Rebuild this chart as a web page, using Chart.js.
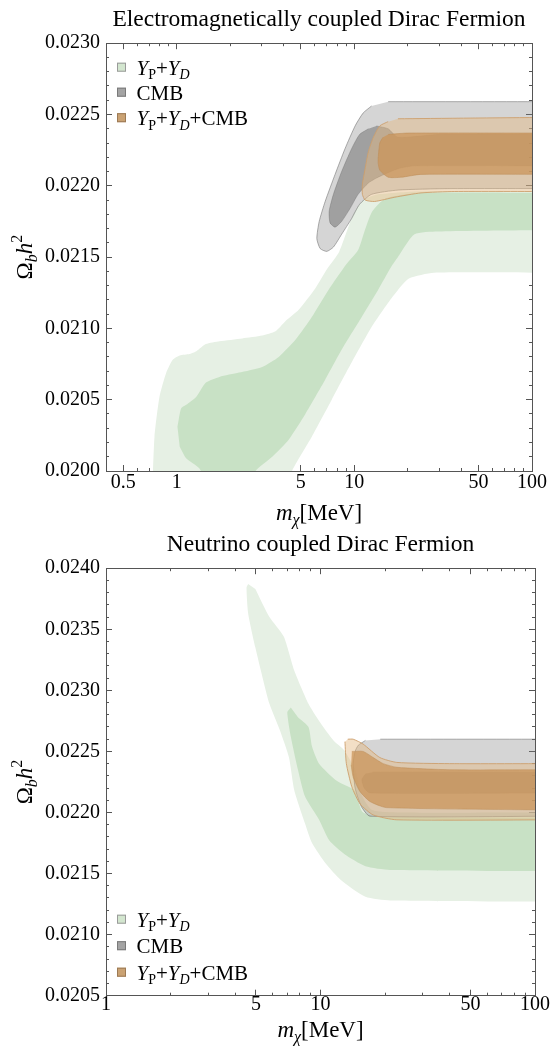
<!DOCTYPE html>
<html>
<head>
<meta charset="utf-8">
<script src="https://cdn.jsdelivr.net/npm/chart.js@4.4.1/dist/chart.umd.min.js"></script>
<style>
  html, body { margin: 0; padding: 0; background: #fff; }
  #wrap { position: relative; width: 553px; height: 1050px; }
  canvas { position: absolute; left: 0; }
  #emChart { top: 0; }
  #nuChart { top: 525px; }
</style>
</head>
<body>
<div id="wrap">
  <canvas id="emChart" width="553" height="530"></canvas>
  <canvas id="nuChart" width="553" height="525"></canvas>
</div>
<script>
// --- top panel: electromagnetically coupled (m in MeV, Omega_b h^2) ---
// points at x >= 130 or y below the axis close the regions outside the frame
const emGreenOuterX = [0.73, 0.75, 0.80, 0.874, 0.95, 1.04, 1.18, 1.29, 1.46, 1.74, 2.34, 3.03, 3.60, 4.09, 4.86, 6.02, 7.05, 8.23, 9.86, 11.2, 13.6, 22.8, 130, 200, 200, 130, 28.0, 20.3, 17.6, 15.5, 12.5, 9.65, 7.46, 5.76, 4.46, 4.3];
const emGreenOuterY = [0.01990, 0.02024, 0.02052, 0.02069, 0.02078, 0.02081, 0.02082, 0.02084, 0.02089, 0.02091, 0.02093, 0.02095, 0.02098, 0.02105, 0.02113, 0.02128, 0.02142, 0.02154, 0.02180, 0.02190, 0.02194, 0.02196, 0.02196, 0.02196, 0.02139, 0.02139, 0.02139, 0.02135, 0.02127, 0.02118, 0.02101, 0.02076, 0.02050, 0.02024, 0.02000, 0.01990];
const emGreenInnerX = [1.01, 1.06, 1.15, 1.29, 1.46, 1.74, 2.24, 3.03, 3.75, 4.66, 5.76, 7.15, 9.01, 10.5, 11.4, 12.6, 14.9, 22.8, 130, 200, 200, 130, 29.4, 21.8, 17.6, 16.1, 13.6, 11.0, 8.48, 6.85, 5.30, 4.27, 3.45, 2.78, 2.7, 1.52, 1.34, 1.13, 1.04];
const emGreenInnerY = [0.02031, 0.02044, 0.02047, 0.02052, 0.02062, 0.02066, 0.02069, 0.02073, 0.02080, 0.02092, 0.02108, 0.02127, 0.02145, 0.02155, 0.02168, 0.02182, 0.02191, 0.02195, 0.02195, 0.02195, 0.02169, 0.02169, 0.02168, 0.02166, 0.02150, 0.02143, 0.02127, 0.02108, 0.02085, 0.02064, 0.02040, 0.02022, 0.02010, 0.02000, 0.01990, 0.01990, 0.02002, 0.02009, 0.02017];
const emCmbOuterX = [15.5, 130, 200, 200, 130, 33.5, 17.6, 12.5, 10.7, 9.65, 8.48, 7.62, 6.99, 6.42, 6.15, 6.34, 6.85, 7.79, 8.86, 10.1, 11.2, 12.5];
const emCmbOuterY = [0.02259, 0.02259, 0.02259, 0.02198, 0.02198, 0.02198, 0.02197, 0.02194, 0.02187, 0.02177, 0.02166, 0.02157, 0.02154, 0.02156, 0.02163, 0.02175, 0.02189, 0.02208, 0.02226, 0.02242, 0.02251, 0.02256];
const emCmbInnerX = [13.3, 15.5, 17.6, 30, 130, 200, 200, 130, 21.8, 17.6, 13.6, 12.0, 10.5, 9.45, 8.48, 7.79, 7.30, 7.21, 7.62, 8.48, 9.65, 10.7, 12.0];
const emCmbInnerY = [0.02242, 0.02240, 0.02234, 0.02236, 0.02236, 0.02236, 0.02214, 0.02214, 0.02214, 0.02212, 0.02206, 0.02202, 0.02194, 0.02184, 0.02175, 0.02171, 0.02174, 0.02182, 0.02194, 0.02210, 0.02226, 0.02236, 0.02240];
const emBothOuterX = [17.6, 130, 200, 200, 130, 36.5, 23.7, 16.9, 13.0, 11.5, 11.1, 11.1, 11.5, 12.0, 12.8, 13.9, 15.5];
const emBothOuterY = [0.02247, 0.02248, 0.02248, 0.02196, 0.02196, 0.02196, 0.02195, 0.02192, 0.02189, 0.02190, 0.02194, 0.02201, 0.02212, 0.02224, 0.02234, 0.02242, 0.02245];
const emBothInnerX = [15.5, 20.0, 130, 200, 200, 130, 23.7, 18.4, 15.5, 13.9, 13.6, 13.9, 14.5];
const emBothInnerY = [0.02236, 0.02237, 0.02237, 0.02237, 0.02208, 0.02208, 0.02208, 0.02206, 0.02206, 0.02211, 0.02217, 0.02230, 0.02234];

// --- bottom panel: neutrino coupled ---
const nuGreenOuterX = [4.60, 4.52, 4.60, 4.97, 5.36, 5.78, 6.48, 7.13, 7.55, 8.47, 9.13, 10.6, 12.4, 16.2, 21.1, 130, 200, 200, 130, 23.5, 17.4, 15.6, 14.5, 12.9, 11.5, 9.85, 8.79, 7.55, 6.74, 5.78, 4.97];
const nuGreenOuterY = [0.02387, 0.02384, 0.02363, 0.02335, 0.02311, 0.02289, 0.02267, 0.02245, 0.02218, 0.02191, 0.02175, 0.02158, 0.02145, 0.02131, 0.02128, 0.02127, 0.02127, 0.02200, 0.02200, 0.02200, 0.02202, 0.02214, 0.02235, 0.02251, 0.02259, 0.02275, 0.02289, 0.02316, 0.02344, 0.02360, 0.02383];
const nuGreenInnerX = [7.27, 7.00, 7.27, 7.85, 8.47, 9.85, 11.0, 12.9, 16.2, 21.1, 130, 200, 200, 130, 21.1, 17.4, 15.6, 14.4, 11.9, 9.85, 9.13, 8.79, 7.85];
const nuGreenInnerY = [0.02286, 0.02282, 0.02262, 0.02235, 0.02213, 0.02194, 0.02177, 0.02166, 0.02156, 0.02153, 0.02152, 0.02152, 0.02196, 0.02196, 0.02196, 0.02197, 0.02201, 0.02218, 0.02226, 0.02240, 0.02254, 0.02270, 0.02278];
const nuCmbOuterX = [19.0, 130, 200, 200, 130, 17.0, 15.5, 14.5, 14.2, 14.5, 15.0, 16.2];
const nuCmbOuterY = [0.02260, 0.02260, 0.02260, 0.02197, 0.02197, 0.02197, 0.02205, 0.02220, 0.02240, 0.02250, 0.02255, 0.02259];
const nuCmbInnerX = [17.5, 130, 200, 200, 130, 17.0, 16.0, 15.6, 16.3];
const nuCmbInnerY = [0.02233, 0.02233, 0.02233, 0.02216, 0.02216, 0.02216, 0.02220, 0.02227, 0.02232];
const nuBothOuterX = [13.4, 14.2, 15.8, 18.9, 22.7, 40, 130, 200, 200, 130, 22.7, 17.6, 15.3, 14.0, 13.2, 13.0];
const nuBothOuterY = [0.02260, 0.02260, 0.02256, 0.02245, 0.02241, 0.02240, 0.02240, 0.02240, 0.02194, 0.02194, 0.02194, 0.02198, 0.02207, 0.02221, 0.02240, 0.02258];
const nuBothInnerX = [14.0, 15.8, 17.6, 19.6, 22.7, 40, 130, 200, 200, 130, 20.3, 17.0, 15.3, 14.2, 13.9];
const nuBothInnerY = [0.02250, 0.02250, 0.02245, 0.02240, 0.02237, 0.02235, 0.02235, 0.02235, 0.02202, 0.02202, 0.02204, 0.02209, 0.02217, 0.02229, 0.02239];

// --- ticks ---
const emXMajor = [0.5, 1, 5, 10, 50, 100];
const emXMinor = [0.6, 0.7, 0.8, 0.9, 2, 3, 4, 6, 7, 8, 9, 20, 30, 40, 60, 70, 80, 90];
const nuXMajor = [1, 5, 10, 50, 100];
const nuXMinor = [2, 3, 4, 6, 7, 8, 9, 20, 30, 40, 60, 70, 80, 90];
const yMajorStep = 0.0005, yMinorStep = 0.0001;

const FONT = "'Liberation Serif', 'Times New Roman', serif";
const GREEN_OUT = '#e6f0e4', GREEN_IN = '#c8e1c5';
const CMB_OUT = 'rgba(128,128,128,0.33)', CMB_IN = 'rgba(90,90,90,0.43)';
const BOTH_OUT = 'rgba(228,184,128,0.45)', BOTH_IN = 'rgba(203,150,91,0.75)';

const YPYD = [{ t: 'Y', it: 1 }, { t: 'P', sub: 1 }, { t: '+' }, { t: 'Y', it: 1 }, { t: 'D', it: 1, sub: 1 }];
const LEGEND = [
    { runs: YPYD, box: '#d3e6cf', edge: '#9a9a9a' },
    { runs: [{ t: 'CMB' }], box: '#a4a4a4', edge: '#7a7a7a' },
    { runs: YPYD.concat([{ t: '+CMB' }]), box: '#caa273', edge: '#9c7a55' }
];
const X_TITLE = [{ t: 'm', it: 1 }, { t: 'χ', it: 1, sub: 1 }, { t: '[MeV]' }];
const Y_TITLE = [{ t: 'Ω' }, { t: 'b', it: 1, sub: 1 }, { t: 'h', it: 1 }, { t: '2', sup: 1 }];

const xy = (xs, ys) => xs.map((x, i) => ({ x, y: ys[i] }));

function region(xs, ys, fill, line, order) {
    return {
        data: xy(xs, ys), showLine: true, fill: 'shape',
        backgroundColor: fill, borderColor: line || 'rgba(0,0,0,0)', borderWidth: line ? 1 : 0,
        pointRadius: 0, pointHoverRadius: 0, tension: 0.2, capBezierPoints: false, order, clip: 0
    };
}

// text with italics, sub- and superscripts (Chart.js titles cannot do that)
function drawRuns(ctx, runs, x, y, size, align) {
    const parts = runs.map(r => {
        const s = (r.sub || r.sup) ? Math.round(size * 0.68) : size;
        const font = (r.it ? 'italic ' : '') + s + 'px ' + FONT;
        ctx.font = font;
        return { r, font, w: ctx.measureText(r.t).width };
    });
    const total = parts.reduce((a, p) => a + p.w, 0);
    let cx = align === 'center' ? x - total / 2 : x;
    ctx.textAlign = 'left';
    ctx.textBaseline = 'alphabetic';
    parts.forEach(p => {
        ctx.font = p.font;
        const dy = p.r.sub ? size * 0.22 : p.r.sup ? -size * 0.42 : 0;
        ctx.fillText(p.r.t, cx, y + dy);
        cx += p.w;
    });
}

const richText = {
    id: 'richText',
    afterDraw(chart, args, o) {
        const { ctx, chartArea: a } = chart;
        ctx.save();
        ctx.fillStyle = '#000';
        drawRuns(ctx, X_TITLE, (a.left + a.right) / 2, a.bottom + o.xTitleDy, 23, 'center');
        ctx.save();
        ctx.translate(o.yTitleX, (a.top + a.bottom) / 2);
        ctx.rotate(-Math.PI / 2);
        drawRuns(ctx, Y_TITLE, 0, 0, 23, 'center');
        ctx.restore();
        LEGEND.forEach((row, i) => {
            const cy = (o.legendFromTop ? a.top : a.bottom) + o.legendDy[i];
            ctx.fillStyle = row.box;
            ctx.fillRect(a.left + 11, cy - 4.5, 9, 9);
            ctx.strokeStyle = row.edge;
            ctx.lineWidth = 1;
            ctx.strokeRect(a.left + 11.5, cy - 4, 8, 8);
            ctx.fillStyle = '#000';
            drawRuns(ctx, row.runs, a.left + 30.5, cy + 7.5, 21, 'left');
        });
        ctx.restore();
    }
};

// frame axes: every side gets a major-tick axis and a minor-tick axis (ticks point inwards)
function logAxis(pos, weight, min, max, values, len, labelled, pad, size) {
    return {
        type: 'logarithmic', position: pos, weight, min, max,
        afterBuildTicks: s => { s.ticks = values.map(v => ({ value: v })); },
        afterFit: s => { s.height = size; },
        ticks: {
            display: labelled, autoSkip: false, maxRotation: 0, padding: pad,
            color: '#000', font: { family: FONT, size: 20 },
            callback: v => String(v)
        },
        grid: { drawOnChartArea: false, tickLength: len, color: '#555', tickColor: '#555' },
        border: { display: weight > 0, color: '#555', width: 1 }
    };
}

function linAxis(pos, weight, min, max, step, len, labelled, size) {
    return {
        type: 'linear', position: pos, weight, min, max,
        afterFit: s => { s.width = size; },
        ticks: {
            display: labelled, autoSkip: false, stepSize: step, padding: len < 0 ? 6 - len : 6,
            color: '#000', font: { family: FONT, size: 20 },
            callback: v => v.toFixed(4)
        },
        grid: { drawOnChartArea: false, tickLength: len, color: '#555', tickColor: '#555' },
        border: { display: weight > 0, color: '#555', width: 1 }
    };
}

function makeChart(id, o) {
    return new Chart(document.getElementById(id), {
        type: 'scatter',
        data: {
            datasets: [
                region(o.g2x, o.g2y, GREEN_OUT, null, 5),
                region(o.g1x, o.g1y, GREEN_IN, null, 4),
                region(o.c2x, o.c2y, CMB_OUT, 'rgba(110,110,110,0.55)', 3),
                region(o.c1x, o.c1y, CMB_IN, 'rgba(90,90,90,0.3)', 2),
                region(o.b2x, o.b2y, BOTH_OUT, 'rgba(205,160,110,0.9)', 1),
                region(o.b1x, o.b1y, BOTH_IN, 'rgba(190,140,85,0.5)', 0)
            ]
        },
        options: {
            responsive: false, animation: false, devicePixelRatio: 1, events: [],
            layout: { padding: { left: 0, right: 18, top: 0, bottom: 0 } },
            plugins: {
                legend: { display: false },
                tooltip: { enabled: false },
                title: {
                    display: true, text: o.title, fullSize: false, color: '#000',
                    font: { family: FONT, size: 23.5, weight: 'normal' },
                    padding: { top: 6, bottom: 9 }
                },
                richText: o.rich
            },
            scales: {
                x: logAxis('bottom', 1, o.xmin, 100, o.xMajor, -6, true, o.xPad, o.xSize),
                xMinor: logAxis('bottom', 0, o.xmin, 100, o.xMinor, -3, false, 0, 0),
                xTop: logAxis('top', 1, o.xmin, 100, o.xMajor, -6, false, 0, 0),
                xTopMinor: logAxis('top', 0, o.xmin, 100, o.xMinor, -3, false, 0, 0),
                y: linAxis('left', 1, o.ymin, o.ymax, yMajorStep, -6, true, 106),
                yMinor: linAxis('left', 0, o.ymin, o.ymax, yMinorStep, -3, false, 0),
                yRight: linAxis('right', 1, o.ymin, o.ymax, yMajorStep, -6, false, 0),
                yRightMinor: linAxis('right', 0, o.ymin, o.ymax, yMinorStep, -3, false, 0)
            }
        },
        plugins: [richText]
    });
}

makeChart('emChart', {
    title: 'Electromagnetically coupled Dirac Fermion',
    g2x: emGreenOuterX, g2y: emGreenOuterY, g1x: emGreenInnerX, g1y: emGreenInnerY,
    c2x: emCmbOuterX, c2y: emCmbOuterY, c1x: emCmbInnerX, c1y: emCmbInnerY,
    b2x: emBothOuterX, b2y: emBothOuterY, b1x: emBothInnerX, b1y: emBothInnerY,
    xmin: 0.4, xMajor: emXMajor, xMinor: emXMinor, xPad: 6, xSize: 59,
    ymin: 0.0200, ymax: 0.0230,
    rich: { xTitleDy: 49, yTitleX: 32, legendFromTop: true, legendDy: [24, 49, 74.5] }
});

makeChart('nuChart', {
    title: 'Neutrino coupled Dirac Fermion',
    g2x: nuGreenOuterX, g2y: nuGreenOuterY, g1x: nuGreenInnerX, g1y: nuGreenInnerY,
    c2x: nuCmbOuterX, c2y: nuCmbOuterY, c1x: nuCmbInnerX, c1y: nuCmbInnerY,
    b2x: nuBothOuterX, b2y: nuBothOuterY, b1x: nuBothInnerX, b1y: nuBothInnerY,
    xmin: 1, xMajor: nuXMajor, xMinor: nuXMinor, xPad: 3, xSize: 54.3,
    ymin: 0.0205, ymax: 0.0240,
    rich: { xTitleDy: 41, yTitleX: 32, legendFromTop: false, legendDy: [-76.5, -50, -23.5] }
});
</script>
</body>
</html>
